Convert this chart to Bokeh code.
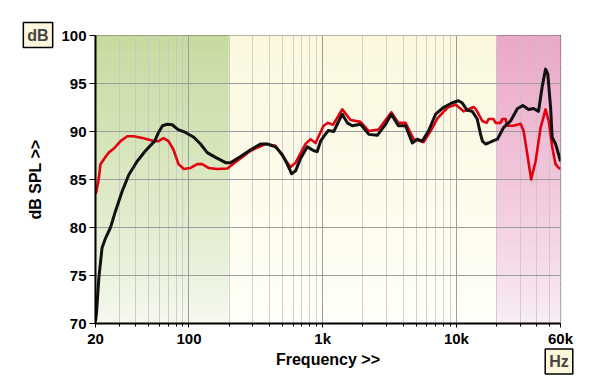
from bokeh.plotting import figure
from bokeh.models import FixedTicker, Label, ColumnDataSource
from bokeh.embed import file_html
from bokeh.resources import INLINE

# ---------------- data ----------------
black_freq = [20, 20.35, 21.2, 22.4, 23.8, 25.9, 28.2, 31.7, 35.5, 41.0, 47.3, 55.4, 59.2,
              63.4, 68.8, 74.9, 83.0, 94.2, 108.7, 122, 137, 158, 188, 204, 243, 289, 343,
              385, 444, 498, 543, 585, 627, 683, 767, 859, 910, 964, 1020, 1100, 1210,
              1330, 1400, 1527, 1664, 1919, 2214, 2558, 2952, 3260, 3680, 4166, 4676,
              5100, 5550, 6180, 6982, 8000, 9300, 10350, 11000, 12050, 13140, 14300,
              15160, 15650, 16500, 17350, 18600, 20250, 22500, 25400, 28600, 31400,
              34600, 37700, 41100, 43700, 46400, 48200, 50600, 52000, 55100, 57000, 60000]
black_db = [70.2, 71.1, 74.8, 77.9, 78.9, 80.0, 81.7, 83.8, 85.5, 86.9, 88.0, 89.0, 89.9,
            90.6, 90.75, 90.7, 90.2, 89.9, 89.4, 88.7, 87.8, 87.3, 86.75, 86.75, 87.4, 88.1, 88.7,
            88.7, 88.4, 87.6, 86.6, 85.6, 85.9, 87.2, 88.4, 88.0, 87.9, 89.0, 89.5, 90.1, 90.0,
            91.2, 91.8, 90.9, 90.6, 90.75, 89.7, 89.6, 90.75, 91.8, 90.6, 90.6, 88.8,
            89.2, 89.0, 90.05, 91.8, 92.5, 93.0, 93.2, 93.0, 92.2, 92.1, 91.3,
            89.7, 89.0, 88.7, 88.8, 89.0, 89.2, 90.4, 91.1, 92.4, 92.7,
            92.3, 92.4, 92.1, 94.6, 96.5, 96.0, 92.5, 89.4, 88.7, 88.0, 86.9]

red_freq = [20, 20.35, 21.2, 21.8, 23.1, 24.5, 25.1, 27.3, 30.8, 34.6, 38.6, 45.7, 54.5,
            59.2, 64.5, 70.3, 76.6, 83.5, 91.5, 102.7, 115.3, 125.5, 140, 163, 194, 215,
            289, 374, 444, 510, 575, 627, 744, 811, 884, 1015, 1093, 1195, 1400, 1616,
            1919, 2214, 2617, 3260, 3680, 4166, 4783, 5680, 6409, 7228, 8588, 9856,
            11311, 13436, 14000, 15600, 16800, 17400, 18960, 19626, 21390, 22000, 23312,
            23900, 26700, 30200, 31800, 33900, 36200, 39080, 42600, 46400, 49000, 52100,
            55100, 58300, 60000]
red_db = [83.5, 83.8, 85.2, 86.6, 87.1, 87.6, 87.8, 88.2, 89.0, 89.5, 89.5, 89.3, 89.0,
          89.0, 89.3, 89.0, 88.1, 86.6, 86.1, 86.2, 86.6, 86.6, 86.2, 86.1, 86.15, 86.65,
          88.0, 88.7, 88.5, 87.3, 86.3, 86.75, 88.7, 89.2, 88.8, 90.6, 90.9, 90.7, 92.3, 91.2,
          91.0, 90.05, 90.2, 92.0, 90.9, 90.9, 89.2, 88.9, 90.05, 91.4, 92.5, 92.8,
          92.1, 92.55, 92.3, 91.1, 90.9, 91.3, 91.3, 90.9, 90.9, 91.3, 91.3,
          90.6, 90.6, 90.8, 90.05, 87.6, 85.0, 86.9, 90.4, 92.3, 91.1, 88.3,
          86.6, 86.2, 86.1]

x_major = [20, 100, 1000, 10000, 60000]
x_labels = ["20", "100", "1k", "10k", "60k"]
x_minor = [30, 40, 50, 60, 70, 80, 90,
           200, 300, 400, 500, 600, 700, 800, 900,
           2000, 3000, 4000, 5000, 6000, 7000, 8000, 9000,
           20000, 30000, 40000, 50000]
y_ticks = [70, 75, 80, 85, 90, 95, 100]

band_edges = [(20, 200), (200, 20000), (20000, 60000)]
band_top_rgb = [(199, 219, 160), (251, 248, 222), (235, 168, 200)]
band_bottom_rgb = [(247, 250, 242), (255, 255, 250), (250, 240, 246)]

FONT = "Liberation Sans"

W, H = 596, 380
p = figure(width=W, height=H, x_axis_type="log",
           x_range=(20, 60000), y_range=(70, 100),
           output_backend="svg", toolbar_location=None,
           min_border_left=95, min_border_right=W - 560,
           min_border_top=35, min_border_bottom=H - 323,
           background_fill_color="white", border_fill_color="white")

# gradient background bands
n = 40
L, R, B, T, C = [], [], [], [], []
for (f0, f1), ct, cb in zip(band_edges, band_top_rgb, band_bottom_rgb):
    for i in range(n):
        y0 = 70 + 30 * i / n
        y1 = 70 + 30 * (i + 1) / n
        t = (i + 0.5) / n
        t = t ** 0.8
        col = tuple(int(round(cb[k] + (ct[k] - cb[k]) * t)) for k in range(3))
        L.append(f0); R.append(f1); B.append(y0); T.append(y1)
        C.append("#%02x%02x%02x" % col)
bg = ColumnDataSource(dict(left=L, right=R, bottom=B, top=T, color=C))
p.quad(left="left", right="right", bottom="bottom", top="top", source=bg,
       fill_color="color", line_color="color", line_width=1, level="image")

# grids
p.xgrid.ticker = FixedTicker(ticks=[100, 1000, 10000], minor_ticks=x_minor)
p.xgrid.grid_line_color = "#9c9c9c"
p.xgrid.grid_line_width = 1
p.xgrid.minor_grid_line_color = "#c4c4c4"
p.xgrid.minor_grid_line_alpha = 0.8
p.ygrid.ticker = FixedTicker(ticks=[75, 80, 85, 90, 95])
p.ygrid.grid_line_color = "#9c9c9c"
p.ygrid.grid_line_width = 1

# curves
p.line(red_freq, red_db, line_color="#e3000f", line_width=2.6, line_join="round")
p.line(black_freq, black_db, line_color="#111111", line_width=3, line_join="round")

# axes
p.outline_line_color = "#404040"
p.outline_line_width = 1.2

xa = p.xaxis[0]
xa.ticker = FixedTicker(ticks=x_major, minor_ticks=x_minor)
xa.major_label_overrides = {k: v for k, v in zip(x_major, x_labels)}
xa.axis_line_color = "black"
xa.axis_line_width = 2
xa.major_tick_in = 0
xa.major_tick_out = 4
xa.minor_tick_in = 0
xa.minor_tick_out = 3
xa.major_tick_line_color = "black"
xa.minor_tick_line_color = "black"
xa.major_label_text_font = FONT
xa.major_label_text_font_style = "bold"
xa.major_label_text_font_size = "15px"
xa.major_label_text_color = "black"
xa.major_label_standoff = 2
xa.axis_label = "Frequency >>"
xa.axis_label_text_font = FONT
xa.axis_label_text_font_style = "bold"
xa.axis_label_text_font_size = "16px"
xa.axis_label_text_color = "black"
xa.axis_label_standoff = 1

ya = p.yaxis[0]
ya.ticker = FixedTicker(ticks=y_ticks)
ya.axis_line_color = "black"
ya.axis_line_width = 2
ya.major_tick_in = 0
ya.major_tick_out = 6
ya.minor_tick_out = 0
ya.major_tick_line_color = "black"
ya.major_label_text_font = FONT
ya.major_label_text_font_style = "bold"
ya.major_label_text_font_size = "15px"
ya.major_label_text_color = "black"
ya.major_label_standoff = 3
ya.axis_label = "dB SPL >>"
ya.axis_label_text_font = FONT
ya.axis_label_text_font_style = "bold"
ya.axis_label_text_font_size = "16px"
ya.axis_label_text_color = "black"
ya.axis_label_standoff = 14

# unit boxes (canvas coordinates, placed in empty side panels so they are not clipped)
for txt, sx, sy, side in [("dB", 37.5, 34.5, "above"), ("Hz", 558.5, 361, "right")]:
    p.add_layout(Label(x=sx, y=sy, x_units="canvas", y_units="canvas", text=txt,
                       text_font=FONT, text_font_style="bold", text_font_size="16px",
                       text_align="center", text_baseline="middle",
                       background_fill_color="#fdf8dc", border_line_color="black",
                       border_line_width=1.5, padding=4), side)

open("out.html", "w").write(file_html(p, INLINE))
